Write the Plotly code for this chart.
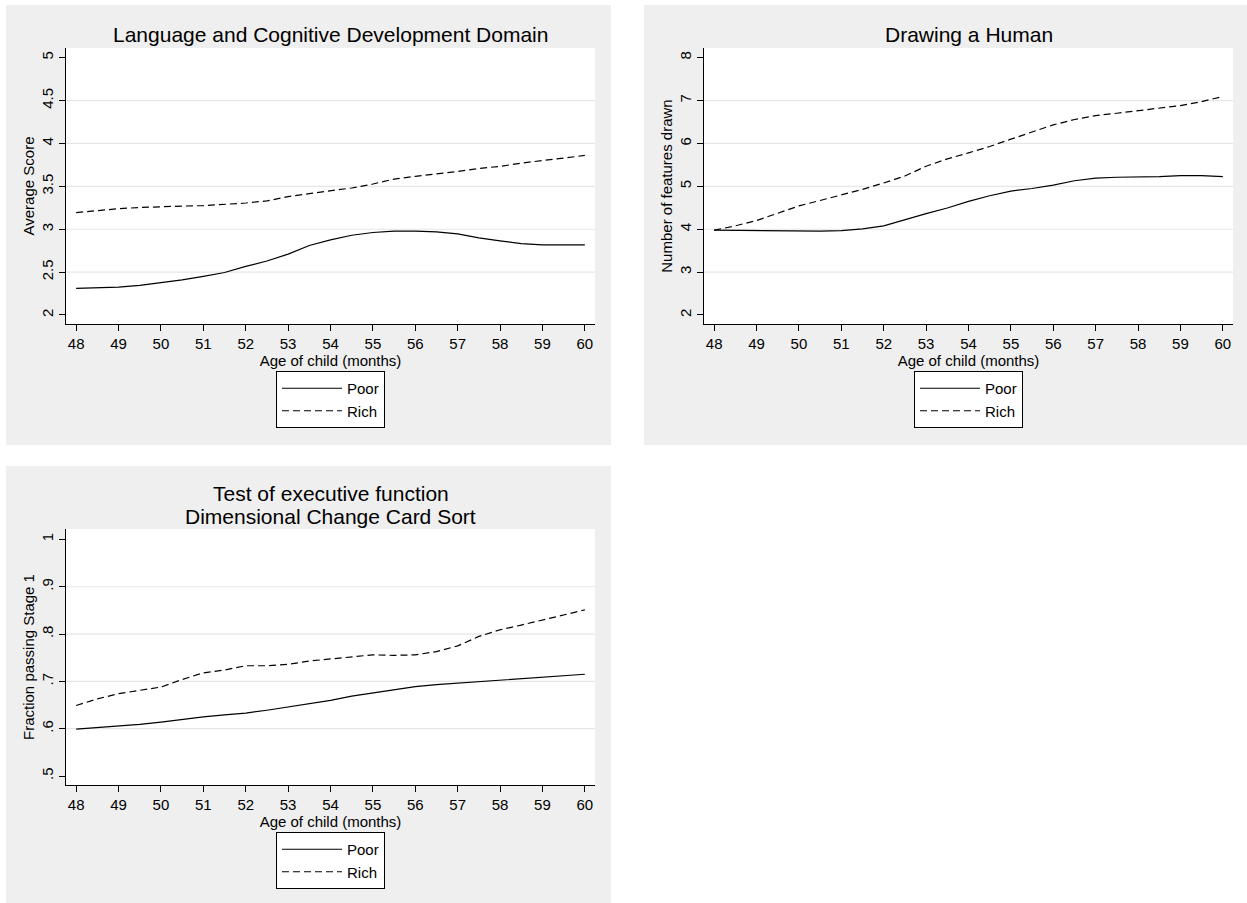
import plotly.graph_objects as go

# ---------------- data ----------------
age = [48, 48.5, 49, 49.5, 50, 50.5, 51, 51.5, 52, 52.5, 53, 53.5, 54,
       54.5, 55, 55.5, 56, 56.5, 57, 57.5, 58, 58.5, 59, 59.5, 60]

lang_poor = [2.310, 2.316, 2.326, 2.346, 2.376, 2.410, 2.450, 2.495, 2.566, 2.630,
             2.710, 2.810, 2.875, 2.930, 2.962, 2.978, 2.978, 2.968, 2.946, 2.899,
             2.864, 2.833, 2.818, 2.818, 2.818]
lang_rich = [3.194, 3.218, 3.240, 3.253, 3.264, 3.270, 3.275, 3.287, 3.306, 3.330,
             3.380, 3.415, 3.446, 3.481, 3.527, 3.585, 3.616, 3.643, 3.674, 3.709,
             3.733, 3.771, 3.802, 3.837, 3.860]

draw_poor = [3.977, 3.970, 3.961, 3.953, 3.946, 3.955, 3.969, 4.010, 4.078, 4.225,
             4.364, 4.496, 4.650, 4.780, 4.890, 4.950, 5.030, 5.130, 5.190, 5.212,
             5.217, 5.225, 5.248, 5.248, 5.225]
draw_rich = [3.977, 4.080, 4.202, 4.370, 4.543, 4.670, 4.798, 4.930, 5.078, 5.240,
             5.470, 5.640, 5.780, 5.930, 6.100, 6.260, 6.434, 6.558, 6.651, 6.705,
             6.760, 6.822, 6.884, 6.977, 7.093]

dccs_poor = [0.599, 0.602, 0.605, 0.609, 0.614, 0.620, 0.625, 0.629, 0.633, 0.639,
             0.646, 0.653, 0.660, 0.669, 0.676, 0.683, 0.689, 0.693, 0.696, 0.700,
             0.703, 0.706, 0.708, 0.711, 0.715]
dccs_rich = [0.649, 0.663, 0.674, 0.681, 0.688, 0.704, 0.718, 0.724, 0.733, 0.733,
             0.736, 0.743, 0.747, 0.751, 0.756, 0.755, 0.756, 0.763, 0.775, 0.795,
             0.809, 0.819, 0.830, 0.840, 0.851]

x_ticks = list(range(48, 61))
lang_ticks = [2, 2.5, 3, 3.5, 4, 4.5, 5]
lang_labels = ["2", "2.5", "3", "3.5", "4", "4.5", "5"]
draw_ticks = [2, 3, 4, 5, 6, 7, 8]
draw_labels = ["2", "3", "4", "5", "6", "7", "8"]
dccs_ticks = [0.5, 0.6, 0.7, 0.8, 0.9, 1.0]
dccs_labels = [".5", ".6", ".7", ".8", ".9", "1"]

series_names = ["Poor", "Rich"]

# ---------------- layout geometry ----------------
W, H = 1247, 903
FONT = "Liberation Sans, Arial, Helvetica, sans-serif"


def px_x(p):
    return p / W


def px_y(p):
    return 1 - p / H


panels = [
    dict(plot=(66, 595, 48, 324), gray=(6, 611, 5, 445), yr=[1.895, 5.113],
         ticks=lang_ticks, labels=lang_labels, ytitle="Average Score",
         titles=[("Language and Cognitive Development Domain", 35)],
         data=(lang_poor, lang_rich), legend_top=371),
    dict(plot=(704, 1233, 48, 324), gray=(644, 1249, 5, 445), yr=[1.79, 8.226],
         ticks=draw_ticks, labels=draw_labels, ytitle="Number of features drawn",
         titles=[("Drawing a Human", 35)],
         data=(draw_poor, draw_rich), legend_top=371),
    dict(plot=(66, 595, 529, 785), gray=(6, 611, 466, 906), yr=[0.481, 1.022],
         ticks=dccs_ticks, labels=dccs_labels, ytitle="Fraction passing Stage 1",
         titles=[("Test of executive function", 494), ("Dimensional Change Card Sort", 516)],
         data=(dccs_poor, dccs_rich), legend_top=832),
]

fig = go.Figure()
shapes = []
annotations = []
layout = dict(
    width=W, height=H,
    margin=dict(l=0, r=0, t=0, b=0),
    paper_bgcolor="white",
    plot_bgcolor="rgba(0,0,0,0)",
    font=dict(family=FONT, color="black", size=15),
    showlegend=True,
)

for i, p in enumerate(panels):
    n = "" if i == 0 else str(i + 1)
    xa, ya = "x" + n, "y" + n
    leg = "legend" + n
    l, r, t, b = p["plot"]
    gl, gr, gt, gb = p["gray"]

    shapes.append(dict(type="rect", xref="paper", yref="paper",
                       x0=px_x(gl), x1=px_x(gr), y0=px_y(gb), y1=px_y(gt),
                       fillcolor="#EFEFEF", line=dict(width=0), layer="below"))
    shapes.append(dict(type="rect", xref="paper", yref="paper",
                       x0=px_x(l), x1=px_x(r), y0=px_y(b), y1=px_y(t),
                       fillcolor="white", line=dict(width=0), layer="below"))
    for v in p["ticks"][1:-1]:
        shapes.append(dict(type="line", xref=xa + " domain", yref=ya,
                           x0=0, x1=1, y0=v, y1=v,
                           line=dict(color="#E6E6E6", width=1.2), layer="below"))

    poor, rich = p["data"]
    for name, vals, dash in zip(series_names, (poor, rich), ("solid", "7px,4px")):
        fig.add_trace(go.Scatter(
            x=age, y=vals, mode="lines", name=name,
            line=dict(color="black", width=1.2, dash=dash, shape="linear"),
            xaxis=xa, yaxis=ya, legend=leg, hoverinfo="skip"))

    layout["xaxis" + n] = dict(
        domain=[px_x(l), px_x(r)], anchor=ya, range=[47.76, 60.24],
        tickmode="array", tickvals=x_ticks, ticktext=[str(v) for v in x_ticks],
        ticks="outside", ticklen=6, tickwidth=1, tickcolor="black",
        showline=True, linecolor="black", linewidth=1, mirror=False,
        showgrid=False, zeroline=False,
        tickfont=dict(size=15, color="black", family=FONT),
        title=dict(text="Age of child (months)", font=dict(size=15, color="black", family=FONT),
                   standoff=0),
    )
    layout["yaxis" + n] = dict(
        domain=[px_y(b), px_y(t)], anchor=xa, range=p["yr"],
        tickmode="array", tickvals=p["ticks"], ticktext=p["labels"],
        ticks="outside", ticklen=6, tickwidth=1, tickcolor="black", tickangle=-90,
        showline=True, linecolor="black", linewidth=1, mirror=False,
        showgrid=False, zeroline=False,
        tickfont=dict(size=15, color="black", family=FONT),
        title=dict(text=p["ytitle"], font=dict(size=15, color="black", family=FONT),
                   standoff=0),
    )
    layout[leg] = dict(
        x=px_x((l + r) / 2), xanchor="center",
        y=px_y(p["legend_top"]), yanchor="top",
        bgcolor="white", bordercolor="black", borderwidth=1,
        font=dict(size=15, color="black", family=FONT),
        orientation="v", tracegroupgap=0, itemwidth=60,
    )
    for text, yc in p["titles"]:
        annotations.append(dict(
            text=text, xref="paper", yref="paper",
            x=px_x((l + r) / 2), y=px_y(yc), xanchor="center", yanchor="middle",
            showarrow=False, font=dict(size=21, color="black", family=FONT)))

layout["shapes"] = shapes
layout["annotations"] = annotations
fig.update_layout(**layout)

fig.write_html(
    "out.html",
    config={"displayModeBar": False, "staticPlot": False},
    post_script="document.body.style.margin='0';document.body.style.padding='0';"
                "document.documentElement.style.overflow='hidden';",
)
